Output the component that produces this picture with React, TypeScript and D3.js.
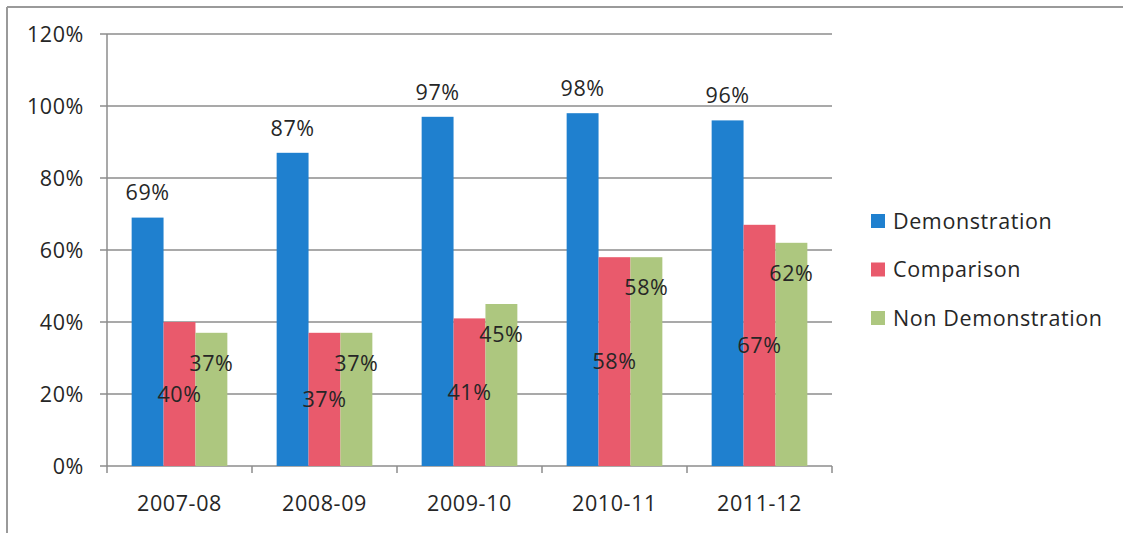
import React from "react";
import * as d3 from "d3";

const categories = ["2007-08", "2008-09", "2009-10", "2010-11", "2011-12"];
const seriesNames = ["Demonstration", "Comparison", "Non Demonstration"];
const demonstration = [69, 87, 97, 98, 96];
const comparison = [40, 37, 41, 58, 67];
const nonDemonstration = [37, 37, 45, 58, 62];
const yTicks = [0, 20, 40, 60, 80, 100, 120];
const colors = ["#1f80cf", "#e95a6c", "#adc77f"];

const W = 1123;
const H = 533;
const FONT = "'Open Sans', 'Liberation Sans', sans-serif";
const FS = 21.5;
const LS = 0.6;

export default function App() {
  const seriesValues = [demonstration, comparison, nonDemonstration];
  const x = d3.scaleBand<string>().domain(categories).range([107, 832]).paddingInner(0).paddingOuter(0);
  const y = d3.scaleLinear().domain([0, 120]).range([466, 34]);
  const groupW = x.bandwidth() * 0.66;
  const inner = d3.scaleBand<string>().domain(seriesNames).range([0, groupW]).padding(0);
  const off = (x.bandwidth() - groupW) / 2;

  return (
    <svg width={W} height={H} style={{ position: "absolute", left: 0, top: 0, background: "#fff" }}>
      <rect x={0} y={0} width={W} height={H} fill="#fff" />
      {/* frame */}
      <line x1={7} y1={7} x2={W} y2={7} stroke="#9a9a9a" strokeWidth={2} />
      <line x1={7} y1={7} x2={7} y2={H} stroke="#9a9a9a" strokeWidth={2} />
      {/* gridlines */}
      {yTicks.map((t) => (
        <g key={t}>
          <line x1={100} x2={832} y1={y(t)} y2={y(t)} stroke="#8c8c8c" strokeWidth={1.5} />
          <text x={84} y={y(t)} dy="0.36em" textAnchor="end" fontFamily={FONT} fontSize={FS} letterSpacing={LS} fill="#262626">
            {t + "%"}
          </text>
        </g>
      ))}
      {/* y axis */}
      <line x1={107} x2={107} y1={34} y2={466} stroke="#8c8c8c" strokeWidth={1.5} />
      {/* x ticks */}
      {[...categories.map((c) => x(c) as number), 832].map((p, i) => (
        <line key={i} x1={p} x2={p} y1={466} y2={473} stroke="#8c8c8c" strokeWidth={1.5} />
      ))}
      {categories.map((c) => (
        <text key={c} x={(x(c) as number) + x.bandwidth() / 2} y={503} dy="0.36em" textAnchor="middle" fontFamily={FONT} fontSize={FS} letterSpacing={LS} fill="#262626">
          {c}
        </text>
      ))}
      {/* bars */}
      {seriesNames.map((s, si) =>
        categories.map((c, ci) => {
          const v = seriesValues[si][ci];
          const bx = (x(c) as number) + off + (inner(s) as number);
          return (
            <rect key={s + c} x={bx} y={y(v)} width={inner.bandwidth()} height={y(0) - y(v)} fill={colors[si]} />
          );
        })
      )}
      {/* labels */}
      {seriesNames.map((s, si) =>
        categories.map((c, ci) => {
          const v = seriesValues[si][ci];
          const cx = (x(c) as number) + off + (inner(s) as number) + inner.bandwidth() / 2;
          let ly: number;
          if (si === 0) ly = y(v) - 25;
          else if (si === 1) ly = (y(v) + y(0)) / 2;
          else ly = y(v) + 30;
          return (
            <text key={"l" + s + c} x={cx} y={ly} dy="0.36em" textAnchor="middle" fontFamily={FONT} fontSize={FS} letterSpacing={LS} fill="#262626">
              {v + "%"}
            </text>
          );
        })
      )}
      {/* legend */}
      {seriesNames.map((s, i) => (
        <g key={"lg" + s} transform={`translate(871, ${221 + i * 48.5})`}>
          <rect x={0} y={-7} width={14} height={14} fill={colors[i]} />
          <text x={22} y={0} dy="0.36em" fontFamily={FONT} fontSize={FS} letterSpacing={LS} fill="#262626">
            {s}
          </text>
        </g>
      ))}
    </svg>
  );
}
